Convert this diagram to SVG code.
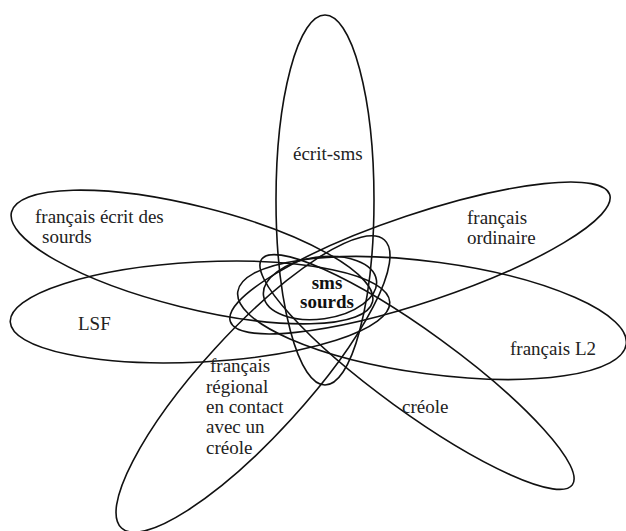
<svg xmlns="http://www.w3.org/2000/svg" width="626" height="531" viewBox="0 0 626 531">
<style>
.e{fill:none;stroke:#111;stroke-width:1.6}
.t{font-family:"Liberation Serif","Times New Roman",serif;font-size:19px;fill:#222}
.b{font-family:"Liberation Serif","Times New Roman",serif;font-size:19px;font-weight:bold;fill:#111;text-anchor:middle}
</style>
<rect width="626" height="531" fill="#fff"/>
<g id="connectors">
</g>
<g id="ecrit-sms">
<ellipse class="e" cx="325" cy="200" rx="49" ry="185"/>
<text class="t" x="293" y="160">écrit-sms</text>
</g>
<g id="francais-ecrit-sourds">
<ellipse class="e" cx="192" cy="257" rx="186" ry="51" transform="rotate(14 192 257)"/>
<text class="t" x="35" y="223">français écrit des</text>
<text class="t" x="42" y="243">sourds</text>
</g>
<g id="lsf">
<ellipse class="e" cx="200" cy="312" rx="190" ry="50" transform="rotate(-3 200 312)"/>
<text class="t" x="78" y="330">LSF</text>
</g>
<g id="francais-ordinaire">
<ellipse class="e" cx="420" cy="258" rx="200" ry="44" transform="rotate(-18.5 420 258)"/>
<text class="t" x="467" y="224">français</text>
<text class="t" x="467" y="244">ordinaire</text>
</g>
<g id="francais-l2">
<ellipse class="e" cx="432" cy="318" rx="196" ry="56" transform="rotate(7.7 432 318)"/>
<text class="t" x="510" y="355">français L2</text>
</g>
<g id="creole">
<ellipse class="e" cx="417" cy="372" rx="192" ry="40" transform="rotate(36 417 372)"/>
<text class="t" x="402" y="413">créole</text>
</g>
<g id="francais-regional">
<ellipse class="e" cx="253" cy="384" rx="195" ry="52" transform="rotate(-47.6 253 384)"/>
<text class="t" x="210" y="372">français</text>
<text class="t" x="206" y="393">régional</text>
<text class="t" x="206" y="413">en contact</text>
<text class="t" x="206" y="433">avec un</text>
<text class="t" x="206" y="454">créole</text>
</g>
<g id="sms-sourds">
<ellipse class="e" cx="320" cy="288" rx="57" ry="31" transform="rotate(-8 320 288)"/>
<text class="b" x="327" y="289">sms</text>
<text class="b" x="327" y="308">sourds</text>
</g>
</svg>
